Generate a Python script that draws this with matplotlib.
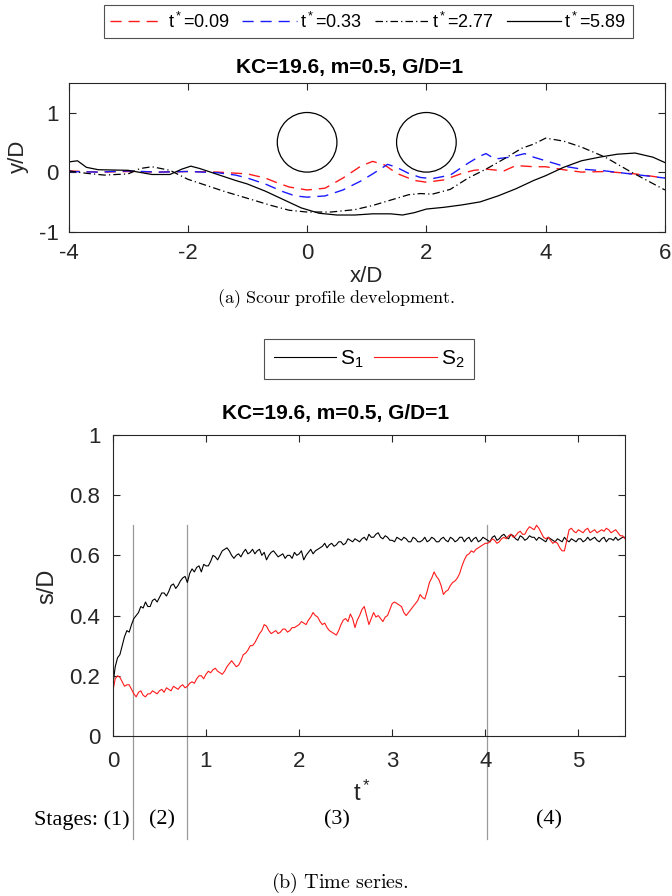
import matplotlib
matplotlib.use('Agg')
import matplotlib.pyplot as plt
import numpy as np
from matplotlib.patches import Circle

plt.rcParams['font.family'] = ['Liberation Sans', 'DejaVu Sans']
plt.rcParams['mathtext.fontset'] = 'cm'
plt.rcParams['axes.unicode_minus'] = False

DARK = '#262626'

# ---- scour profiles, y/D against x/D ----
PROFILE_LABELS = ['0.09', '0.33', '2.77', '5.89']

x_t009 = [-4, -3.5, -3, -2.5, -2, -1.5, -1, -0.7, -0.5, -0.3, 0, 0.3, 0.6, 0.9, 1.1, 1.3,
          1.5, 1.8, 2.0, 2.3, 2.6, 2.8, 3.0, 3.3, 3.5, 3.8, 4.0, 4.3, 4.6, 5.0, 5.5, 6.0]
y_t009 = [0.02, 0.0, 0.01, 0.0, 0.01, 0.0, -0.03, -0.1, -0.18, -0.25, -0.3, -0.27, -0.1, 0.1, 0.18, 0.12,
          -0.02, -0.14, -0.17, -0.13, -0.02, 0.03, 0.05, 0.02, 0.11, 0.09, 0.09, 0.04, 0.0, 0.01, -0.03, -0.1]

x_t033 = [-4, -3.5, -3, -2.5, -2, -1.5, -1.2, -1, -0.7, -0.4, -0.2, 0, 0.3, 0.6, 0.9, 1.1, 1.35, 1.5,
          1.7, 1.9, 2.1, 2.4, 2.7, 2.9, 3.0, 3.15, 3.4, 3.65, 3.8, 4.0, 4.3, 4.6, 5.0, 5.5, 6.0]
y_t033 = [0.01, 0.0, 0.02, 0.0, 0.01, -0.01, -0.05, -0.1, -0.2, -0.33, -0.4, -0.42, -0.4, -0.3, -0.15, -0.03, 0.13, 0.08,
          -0.02, -0.09, -0.11, -0.05, 0.15, 0.27, 0.31, 0.22, 0.25, 0.31, 0.25, 0.19, 0.1, 0.05, 0.02, -0.04, -0.1]

x_t277 = [-4, -3.7, -3.4, -3.0, -2.8, -2.6, -2.3, -2.0, -1.7, -1.4, -1.0, -0.6, -0.3, 0, 0.4, 0.8, 1.1,
          1.4, 1.7, 1.9, 2.1, 2.4, 2.7, 3.0, 3.3, 3.6, 3.8, 4.0, 4.3, 4.6, 5.0, 5.4, 5.7, 6.0]
y_t277 = [0.02, -0.02, -0.05, -0.03, 0.06, 0.09, 0.03, -0.12, -0.22, -0.32, -0.44, -0.56, -0.64, -0.67, -0.67, -0.63, -0.56,
          -0.47, -0.38, -0.36, -0.37, -0.29, -0.1, 0.05, 0.22, 0.4, 0.47, 0.57, 0.52, 0.42, 0.25, 0.02, -0.14, -0.3]

x_t589 = [-4, -3.85, -3.7, -3.5, -3.0, -2.6, -2.3, -2.1, -1.95, -1.8, -1.5, -1.2, -1.0, -0.7, -0.4, -0.1, 0.2, 0.5, 0.8,
          1.1, 1.4, 1.6, 1.8, 2.0, 2.3, 2.6, 2.9, 3.2, 3.5, 3.8, 4.0, 4.3, 4.6, 4.9, 5.2, 5.5, 5.8, 6.0]
y_t589 = [0.17, 0.19, 0.08, 0.04, 0.03, -0.04, -0.04, 0.05, 0.1, 0.06, -0.04, -0.14, -0.2, -0.32, -0.46, -0.6, -0.69, -0.72, -0.72,
          -0.7, -0.7, -0.72, -0.68, -0.62, -0.59, -0.55, -0.5, -0.4, -0.28, -0.14, -0.06, 0.08, 0.19, 0.25, 0.3, 0.32, 0.25, 0.16]

# pipe centres (x/D, y/D), diameter 1
PIPE_X = [0, 2]
PIPE_Y = [0.5, 0.5]

# ---- scour depth time series, sampled every 0.025 t* ----
DT = 0.025
s1 = [0.17, 0.23, 0.26, 0.27, 0.30, 0.33, 0.35, 0.345, 0.37, 0.39, 0.40, 0.41, 0.43, 0.425, 0.445, 0.43, 0.43, 0.45, 0.455, 0.445,
      0.46, 0.475, 0.475, 0.465, 0.48, 0.50, 0.505, 0.49, 0.50, 0.515, 0.525, 0.53, 0.51, 0.54, 0.555, 0.545, 0.56, 0.565, 0.545, 0.57,
      0.565, 0.565, 0.58, 0.60, 0.595, 0.585, 0.60, 0.615, 0.62, 0.625, 0.615, 0.60, 0.59, 0.60, 0.605, 0.595, 0.61, 0.62, 0.605, 0.61,
      0.62, 0.605, 0.615, 0.62, 0.60, 0.61, 0.585, 0.60, 0.61, 0.615, 0.605, 0.595, 0.60, 0.605, 0.59, 0.60, 0.60, 0.59, 0.61, 0.60,
      0.605, 0.615, 0.585, 0.60, 0.61, 0.62, 0.605, 0.615, 0.62, 0.625, 0.63, 0.64, 0.625, 0.635, 0.64, 0.63, 0.635, 0.645, 0.645, 0.635,
      0.64, 0.655, 0.65, 0.645, 0.655, 0.65, 0.645, 0.655, 0.66, 0.65, 0.67, 0.66, 0.66, 0.67, 0.675, 0.66, 0.655, 0.665, 0.66, 0.65,
      0.65, 0.645, 0.66, 0.655, 0.65, 0.66, 0.655, 0.645, 0.645, 0.66, 0.655, 0.645, 0.645, 0.65, 0.66, 0.645, 0.65, 0.66, 0.655, 0.645,
      0.645, 0.655, 0.66, 0.65, 0.645, 0.66, 0.655, 0.645, 0.65, 0.66, 0.66, 0.645, 0.655, 0.66, 0.645, 0.655, 0.66, 0.645, 0.65, 0.66,
      0.655, 0.65, 0.645, 0.66, 0.665, 0.65, 0.655, 0.665, 0.67, 0.66, 0.655, 0.67, 0.665, 0.655, 0.65, 0.665, 0.66, 0.65, 0.655, 0.665,
      0.66, 0.66, 0.65, 0.66, 0.655, 0.65, 0.645, 0.66, 0.655, 0.65, 0.645, 0.655, 0.65, 0.645, 0.66, 0.65, 0.645, 0.655, 0.65, 0.645,
      0.655, 0.655, 0.645, 0.65, 0.66, 0.65, 0.655, 0.66, 0.65, 0.645, 0.655, 0.66, 0.645, 0.655, 0.655, 0.65, 0.66, 0.65, 0.655, 0.66,
      0.66]

s2 = [0.15, 0.19, 0.20, 0.195, 0.18, 0.165, 0.17, 0.17, 0.155, 0.14, 0.13, 0.145, 0.15, 0.135, 0.13, 0.14, 0.14, 0.15, 0.145, 0.14,
      0.15, 0.155, 0.145, 0.16, 0.155, 0.15, 0.165, 0.16, 0.155, 0.165, 0.17, 0.16, 0.165, 0.175, 0.18, 0.175, 0.19, 0.20, 0.20, 0.19,
      0.205, 0.215, 0.21, 0.22, 0.225, 0.215, 0.21, 0.205, 0.215, 0.23, 0.24, 0.25, 0.24, 0.23, 0.235, 0.25, 0.27, 0.275, 0.285, 0.30,
      0.30, 0.31, 0.325, 0.34, 0.35, 0.37, 0.365, 0.35, 0.34, 0.345, 0.35, 0.34, 0.345, 0.355, 0.355, 0.345, 0.35, 0.36, 0.36, 0.365,
      0.37, 0.38, 0.375, 0.37, 0.385, 0.395, 0.41, 0.40, 0.395, 0.38, 0.37, 0.375, 0.36, 0.35, 0.345, 0.34, 0.335, 0.35, 0.37, 0.385,
      0.39, 0.38, 0.405, 0.39, 0.36, 0.385, 0.40, 0.42, 0.43, 0.40, 0.37, 0.39, 0.41, 0.395, 0.40, 0.39, 0.38, 0.395, 0.40, 0.42,
      0.44, 0.445, 0.44, 0.435, 0.43, 0.41, 0.40, 0.41, 0.42, 0.43, 0.44, 0.45, 0.47, 0.46, 0.455, 0.48, 0.51, 0.525, 0.545, 0.53,
      0.52, 0.50, 0.47, 0.48, 0.485, 0.50, 0.51, 0.515, 0.525, 0.54, 0.565, 0.585, 0.60, 0.605, 0.615, 0.61, 0.62, 0.625, 0.63, 0.635,
      0.64, 0.64, 0.645, 0.655, 0.65, 0.64, 0.645, 0.655, 0.66, 0.655, 0.665, 0.67, 0.66, 0.665, 0.675, 0.68, 0.67, 0.67, 0.685, 0.695,
      0.69, 0.685, 0.70, 0.69, 0.675, 0.66, 0.655, 0.66, 0.65, 0.64, 0.645, 0.64, 0.625, 0.615, 0.615, 0.65, 0.685, 0.69, 0.68, 0.675,
      0.685, 0.68, 0.675, 0.685, 0.69, 0.675, 0.68, 0.685, 0.675, 0.68, 0.685, 0.68, 0.69, 0.685, 0.675, 0.68, 0.685, 0.675, 0.665, 0.665,
      0.655]

t_star = np.arange(len(s1)) * DT

# stage boundaries and stage label positions in t*
STAGE_BOUNDS = [0.22, 0.8, 4.02]
STAGE_NAMES = ['Stages: (1)', '(2)', '(3)', '(4)']
STAGE_POS = [0.18, 0.53, 2.41, 4.68]

TITLE = 'KC=19.6, m=0.5, G/D=1'

fig = plt.figure(figsize=(6.72, 8.96), dpi=100)


def style_axes(ax, xpad, ypad):
    ax.tick_params(direction='in', top=True, right=True, length=5, width=0.8,
                   colors=DARK, labelsize=16)
    ax.tick_params(axis='x', pad=xpad)
    ax.tick_params(axis='y', pad=ypad)
    for sp in ax.spines.values():
        sp.set_color(DARK)
        sp.set_linewidth(0.8)


# ---------- (a) profiles ----------
ax1 = fig.add_axes([0.102, 0.7414, 0.8875, 0.1663])
l1, = ax1.plot(x_t009, y_t009, color='#ff1a1a', lw=1.0, dashes=(8, 5))
l2, = ax1.plot(x_t033, y_t033, color='#1a1aff', lw=1.0, dashes=(8, 5))
l3, = ax1.plot(x_t277, y_t277, color='black', lw=0.9, dashes=(6, 2.5, 1, 2.5))
l4, = ax1.plot(x_t589, y_t589, color='black', lw=0.9)
for cx, cy in zip(PIPE_X, PIPE_Y):
    ax1.add_patch(Circle((cx, cy), 0.5, fill=False, ec='black', lw=0.9))
ax1.set_xlim(-4, 6)
ax1.set_ylim(-1, 1.5)
ax1.set_xticks([-4, -2, 0, 2, 4, 6])
ax1.set_yticks([-1, 0, 1])
style_axes(ax1, 8, 7)

fig.text(0.52, 0.925, TITLE, ha='center', va='center', fontsize=15, fontweight='bold')
fig.text(0.545, 0.691, 'x/D', ha='center', va='center', fontsize=16, color=DARK)
fig.text(0.028, 0.825, 'y/D', ha='center', va='center', fontsize=16, color=DARK, rotation=90)

leg1 = fig.legend([l1, l2, l3, l4], [r'$\mathregular{t^*}$=' + s for s in PROFILE_LABELS],
                  loc='center', bbox_to_anchor=(0.548, 0.976), ncol=4, fancybox=False,
                  edgecolor=DARK, fontsize=13, handlelength=3.0, handletextpad=0.2,
                  columnspacing=0.7, borderpad=0.35, borderaxespad=0)
leg1.get_frame().set_linewidth(0.8)

fig.text(0.5, 0.667, r'$\mathrm{(a)\ Scour\ profile\ development.}$', ha='center', va='center',
         fontsize=13)

# ---------- (b) time series ----------
ax2 = fig.add_axes([0.168, 0.1786, 0.762, 0.336])
h1, = ax2.plot(t_star, s1, color='black', lw=0.8)
h2, = ax2.plot(t_star, s2, color='#ff1a1a', lw=0.8)
ax2.set_xlim(0, 5.5)
ax2.set_ylim(0, 1)
ax2.set_xticks([0, 1, 2, 3, 4, 5])
ax2.set_yticks([0, 0.2, 0.4, 0.6, 0.8, 1])
ax2.set_yticklabels(['0', '0.2', '0.4', '0.6', '0.8', '1'])
style_axes(ax2, 11, 9)

for tb in STAGE_BOUNDS:
    ax2.plot([tb, tb], [0.7, -0.342], color='#9a9a9a', lw=0.9, clip_on=False, zorder=1)

for name, tp in zip(STAGE_NAMES, STAGE_POS):
    ax2.text(tp, -0.279, name, transform=ax2.get_xaxis_transform(),
             ha='right' if name.startswith('Stages') else 'center', va='center',
             fontsize=16, family='Liberation Serif')

fig.text(0.50, 0.538, TITLE, ha='center', va='center', fontsize=15, fontweight='bold')
fig.text(0.539, 0.115, r'$\mathregular{t^*}$', ha='center', va='center', fontsize=17, color=DARK)
fig.text(0.071, 0.346, 's/D', ha='center', va='center', fontsize=17, color=DARK, rotation=90)

leg2 = fig.legend([h1, h2], [r'S$\mathregular{_1}$', r'S$\mathregular{_2}$'],
                  loc='center', bbox_to_anchor=(0.549, 0.5993), ncol=2, fancybox=False,
                  edgecolor=DARK, fontsize=15, handlelength=3.0, handletextpad=0.2,
                  columnspacing=0.5, borderpad=0.45, borderaxespad=0)
leg2.get_frame().set_linewidth(0.8)

fig.text(0.506, 0.0145, r'$\mathrm{(b)\ Time\ series.}$', ha='center', va='center', fontsize=14.5)

fig.savefig('out.png', dpi=100)
